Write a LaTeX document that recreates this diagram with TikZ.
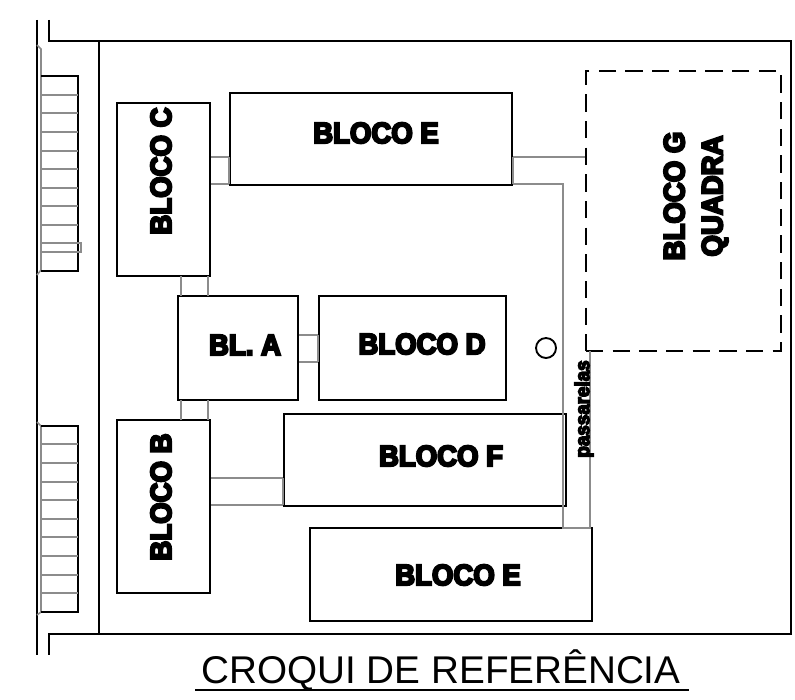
\documentclass[tikz,border=0pt]{standalone}
\usepackage{fontspec}
\setmainfont{Liberation Sans}
\newfontfamily\blockfont[UprightFont=* Bold, FakeBold=7, FakeStretch=0.94]{Liberation Sans}
\usetikzlibrary{positioning}
\def\pxu{0.75pt}

\begin{document}
\begin{tikzpicture}[
    x=0.75pt, y=-0.75pt,
    wall/.style={line width=1.8pt, draw=black},
    walk/.style={line width=1.5pt, draw=black!45},
    rung/.style={line width=1.2pt, draw=black!45},
    block/.style={draw, line width=1.7pt, inner sep=0pt, fill=white},
    blocksize/.style 2 args={minimum width=#1*\pxu, minimum height=#2*\pxu},
    block label/.style={font=\blockfont\fontsize{22}{24}\selectfont, inner sep=0pt},
    quadra/.style={draw, line width=1.7pt, dash pattern=on 13pt off 7pt, inner sep=0pt}
]
\useasboundingbox (0,0) rectangle (795,699);

% Walkways (under the blocks)
\coordinate (gateL) at (590,351);
\coordinate (bendU) at (563,184);
\coordinate (bendL) at (563,528);
\coordinate (bendR) at (590,528);

% Blocks
\node[block, blocksize={93}{173}] (C) at (163.5,189.5) {};
\node[block, blocksize={282}{92}] (E) at (371,139) {};
\node[block, blocksize={120}{104}] (A) at (238,348) {};
\node[block, blocksize={187}{104}] (D) at (412.5,348) {};
\node[block, blocksize={93}{173}] (B) at (163.5,506.5) {};
\node[block, blocksize={282}{92}] (F) at (425,460) {};
\node[block, blocksize={282}{93}] (L) at (451,574.5) {};
\node[quadra, blocksize={195}{280}] (G) at (683.5,211) {};
\node[circle, draw, line width=1.4pt, minimum size=15pt, inner sep=0pt] (poste) at (546,348) {};

% Labels
\node[block label] (labE) at (376,133) {BLOCO E};
\node[block label, rotate=90] (labC) at (161,171) {BLOCO C};
\node[block label] (labA) at (245,345) {BL. A};
\node[block label] (labD) at (422,344) {BLOCO D};
\node[block label, rotate=90] (labB) at (161,497) {BLOCO B};
\node[block label] (labF) at (441,456) {BLOCO F};
\node[block label] (labL) at (458,575) {BLOCO E};
\node[block label, rotate=90, align=center] (labG) at (696,196) {BLOCO G\\[4.5pt]QUADRA};

% Connections
\draw[walk] (C.east |- 0,157) -- (E.west |- 0,157);
\draw[walk] (C.east |- 0,184) -- (E.west |- 0,184);
\draw[walk] (E.west |- 0,157) -- (E.west |- 0,184);
\draw[walk] (181,276) -- (181,296);
\draw[walk] (208,276) -- (208,296);
\draw[walk] (181,400) -- (181,420);
\draw[walk] (208,400) -- (208,420);
\draw[walk] (A.east |- 0,335) -- (D.west |- 0,335);
\draw[walk] (A.east |- 0,362) -- (D.west |- 0,362);
\draw[walk] (D.west |- 0,335) -- (D.west |- 0,362);
\draw[walk] (B.east |- 0,478) -- (F.west |- 0,478);
\draw[walk] (B.east |- 0,505) -- (F.west |- 0,505);
\draw[walk] (F.west |- 0,478) -- (F.west |- 0,505);
\draw[walk] (E.east |- 0,157) -- (G.west |- 0,157);
\draw[walk] (E.east |- 0,157) -- (E.east |- 0,184);
\draw[walk] (E.east |- bendU) -- (bendU) -- (bendL) -- (bendR) -- (gateL);

% Site
\draw[wall] (49,20) -- (49,41) -- (791,41) -- (791,634) -- (49,634) -- (49,655);
\draw[wall] (99,41) -- (99,634);
\draw[wall] (37,20) -- (37,655);

% Stairs
\draw[rung] (37,45) -- (41,49) -- (41,270) -- (37,275);
\draw[rung] (37,422) -- (41,426) -- (41,612) -- (37,615);
\draw[wall, line width=1.5pt] (41,76) -- (78,76) -- (78,271) -- (41,271);
\draw[wall, line width=1.5pt] (41,426) -- (78,426) -- (78,612) -- (41,612);
\foreach \y in {95,113,132,151,169,188,206,225,243,252}
    \draw[rung] (41,\y) -- (78,\y);
\draw[rung] (78,243) -- (81,243) -- (81,252) -- (78,252);
\foreach \y in {444,463,482,500,519,537,556,575,593}
    \draw[rung] (41,\y) -- (78,\y);

% Texts
\node[font=\blockfont\fontsize{15}{17}\selectfont, rotate=90, inner sep=0pt] (passarelas) at (584,409) {passarelas};
\node[font=\fontsize{29}{32}\selectfont, inner sep=0pt] (title) at (441,670) {CROQUI DE REFERÊNCIA};
\draw[line width=1.1pt] (195,690) coordinate (subA) -- (689,690) coordinate (subB);
\end{tikzpicture}
\end{document}
